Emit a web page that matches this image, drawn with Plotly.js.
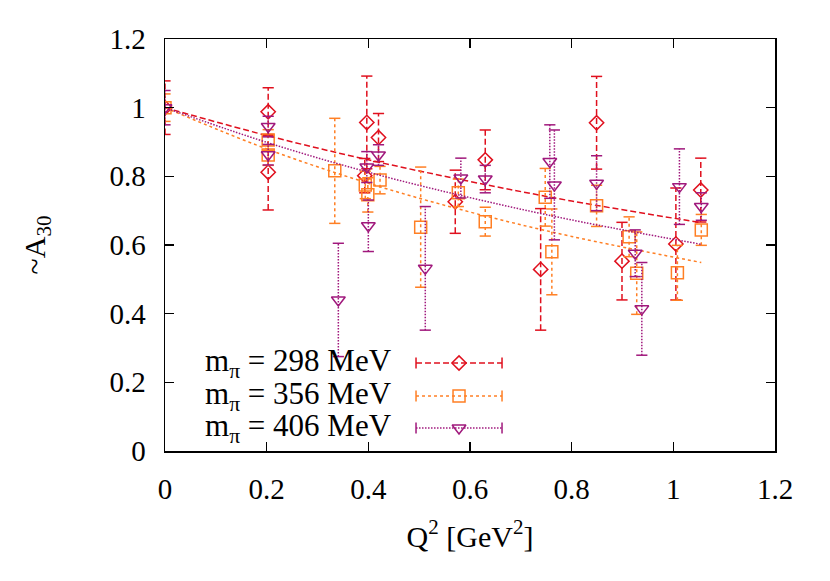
<!DOCTYPE html>
<html>
<head>
<meta charset="utf-8">
<script src="https://cdn.plot.ly/plotly-3.0.1.min.js"></script>
<style>html,body{margin:0;padding:0;background:#fff;}#chart{width:830px;height:581px;}</style>
</head>
<body>
<div id="chart"></div>
<script>
// ---- data ----
const seriesNames = ["m<sub>π</sub> = 298 MeV", "m<sub>π</sub> = 356 MeV", "m<sub>π</sub> = 406 MeV"];

const q2_298 = [0, 0.203, 0.203, 0.393, 0.397, 0.420, 0.571, 0.630, 0.739, 0.849, 0.899, 1.005, 1.054];
const a_298  = [1.0, 0.988, 0.812, 0.802, 0.957, 0.913, 0.726, 0.848, 0.529, 0.956, 0.553, 0.603, 0.760];
const e_298  = [0.078, 0.070, 0.110, 0.050, 0.135, 0.070, 0.092, 0.087, 0.177, 0.135, 0.113, 0.163, 0.093];

const q2_356 = [0, 0.203, 0.203, 0.334, 0.394, 0.399, 0.423, 0.503, 0.577, 0.630, 0.748, 0.761, 0.849, 0.913, 0.928, 1.008, 1.055];
const a_356  = [1.0, 0.906, 0.862, 0.816, 0.775, 0.746, 0.789, 0.652, 0.752, 0.668, 0.739, 0.580, 0.714, 0.624, 0.518, 0.519, 0.644];
const e_356  = [0.040, 0.030, 0.030, 0.153, 0.040, 0.050, 0.040, 0.175, 0.040, 0.042, 0.084, 0.125, 0.060, 0.058, 0.120, 0.080, 0.045];

const q2_406 = [0, 0.203, 0.203, 0.341, 0.397, 0.400, 0.420, 0.512, 0.582, 0.630, 0.757, 0.766, 0.849, 0.925, 0.938, 1.012, 1.055];
const a_406  = [1.0, 0.945, 0.863, 0.440, 0.827, 0.656, 0.862, 0.532, 0.795, 0.792, 0.843, 0.775, 0.780, 0.576, 0.414, 0.770, 0.712];
const e_406  = [0.050, 0.030, 0.030, 0.165, 0.045, 0.075, 0.030, 0.180, 0.058, 0.040, 0.107, 0.160, 0.080, 0.068, 0.135, 0.110, 0.040];

// fit curves
const fitQ2    = [0, 0.2, 0.4, 0.6, 0.8, 1.055];
const fit_298  = [1.0, 0.919, 0.848, 0.785, 0.728, 0.665];
const fit_356  = [1.0, 0.880, 0.780, 0.696, 0.625, 0.549];
const fit_406  = [1.0, 0.899, 0.812, 0.738, 0.673, 0.602];

const xTicks = [0, 0.2, 0.4, 0.6, 0.8, 1, 1.2];
const yTicks = [0, 0.2, 0.4, 0.6, 0.8, 1, 1.2];

// ---- styles ----
const colors = ["#e0101e", "#ff7f24", "#a0187c"];
const dashes = ["6px,3px", "3px,3px", "1.5px,1.5px"];
const symbols = ["diamond-open", "square-open", "triangle-down-open"];
const msize = [11, 12, 12];
const FONT = "Times New Roman";

const sets = [[q2_298, a_298, e_298, fit_298], [q2_356, a_356, e_356, fit_356], [q2_406, a_406, e_406, fit_406]];

const traces = [];
sets.forEach((s, i) => {
  const [xs, ys, es, fit] = s;
  traces.push({x: fitQ2, y: fit, mode: "lines", line: {color: colors[i], width: 1.5, dash: dashes[i], shape: "spline"}, hoverinfo: "skip", showlegend: false});
  const ex = [], ey = [], cx = [], cy = [];
  xs.forEach((x, k) => {
    ex.push(x, x, null); ey.push(ys[k] - es[k], ys[k] + es[k], null);
    cx.push(x, x); cy.push(ys[k] - es[k], ys[k] + es[k]);
  });
  traces.push({x: ex, y: ey, mode: "lines", line: {color: colors[i], width: 1.5, dash: dashes[i]}, hoverinfo: "skip", showlegend: false});
  traces.push({x: cx, y: cy, mode: "markers", marker: {symbol: "line-ew-open", size: 8, color: colors[i], line: {color: colors[i], width: 1.5}}, hoverinfo: "skip", showlegend: false});
  traces.push({x: xs, y: ys, mode: "markers", marker: {symbol: symbols[i], size: msize[i], color: colors[i], line: {color: colors[i], width: 1.5}}, showlegend: false});
});

// gnuplot-style key: text on the left, sample on the right (overlay axis in paper units)
const legendRowY = [0.2136, 0.1335, 0.0558];
const annotations = [];
seriesNames.forEach((name, i) => {
  annotations.push({xref: "paper", yref: "paper", x: 0.376, y: legendRowY[i], xanchor: "right", yanchor: "middle",
    text: name, showarrow: false, font: {family: FONT, size: 31, color: "#000"}});
  traces.push({x: [0.4115, 0.5525], y: [legendRowY[i], legendRowY[i]], xaxis: "x2", yaxis: "y2", mode: "lines",
    line: {color: colors[i], width: 1.5, dash: dashes[i]}, hoverinfo: "skip", showlegend: false});
  traces.push({x: [0.4115, 0.5525], y: [legendRowY[i], legendRowY[i]], xaxis: "x2", yaxis: "y2", mode: "markers",
    marker: {symbol: "line-ns-open", size: 8, color: colors[i], line: {color: colors[i], width: 1.5}}, hoverinfo: "skip", showlegend: false});
  traces.push({x: [0.482], y: [legendRowY[i]], xaxis: "x2", yaxis: "y2", mode: "markers",
    marker: {symbol: symbols[i], size: msize[i], color: colors[i], line: {color: colors[i], width: 1.5}}, hoverinfo: "skip", showlegend: false});
});

const axisCommon = {
  showgrid: false, zeroline: false, showline: true, linecolor: "#000", linewidth: 1.5,
  mirror: "ticks", ticks: "inside", ticklen: 9, tickwidth: 1.3, tickcolor: "#000",
  tickfont: {family: FONT, size: 29, color: "#000"}
};

const layout = {
  width: 830, height: 581,
  margin: {l: 165, r: 55, t: 39, b: 130, pad: 0},
  paper_bgcolor: "#fff", plot_bgcolor: "#fff",
  font: {family: FONT, color: "#000"},
  showlegend: false,
  xaxis: Object.assign({}, axisCommon, {range: [0, 1.2], tickvals: xTicks, ticktext: xTicks.map(String), ticklabelstandoff: 12,
    title: {text: "Q<sup>2</sup> [GeV<sup>2</sup>]", font: {family: FONT, size: 30, color: "#000"}, standoff: 21}}),
  yaxis: Object.assign({}, axisCommon, {range: [0, 1.2], tickvals: yTicks, ticktext: yTicks.map(String), ticklabelstandoff: 12,
    title: {text: "~A<sub>30</sub>", font: {family: FONT, size: 30, color: "#000"}, standoff: 55}}),
  xaxis2: {overlaying: "x", range: [0, 1], visible: false, fixedrange: true},
  yaxis2: {overlaying: "y", range: [0, 1], visible: false, fixedrange: true},
  annotations: annotations
};

Plotly.newPlot("chart", traces, layout, {displayModeBar: false, staticPlot: true});
</script>
</body>
</html>
